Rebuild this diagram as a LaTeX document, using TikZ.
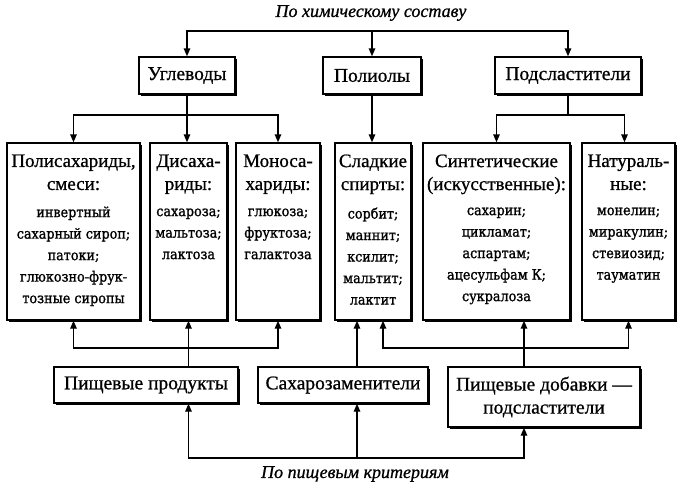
\documentclass[tikz,border=0pt]{standalone}
\usepackage{fontspec}
\setmainfont{Liberation Serif}[FakeBold=0.8]
\newfontfamily\itemf{DejaVu Serif Condensed}[FakeBold=1.2]
\usetikzlibrary{arrows.meta,shadows}

\tikzset{
  box/.style={draw, line width=1.4pt, fill=white, inner sep=0pt,
    drop shadow={shadow xshift=2pt, shadow yshift=-2pt, fill=black, opacity=1}},
  headbox/.style={box, minimum height=37pt, font=\fontsize{19.5}{22}\selectfont},
  midbox/.style={box, minimum height=177pt},
  head/.style={align=center, inner sep=0pt, anchor=north, font=\fontsize{19}{23}\selectfont},
  items/.style={align=center, inner sep=0pt, anchor=north, font=\itemf\fontsize{14.2}{21.5}\selectfont},
  title/.style={inner sep=0pt, font=\itshape\fontsize{18}{20}\selectfont},
  line/.style={line width=1.4pt},
  link/.style={line width=1.4pt, -{Triangle[length=8pt,width=6.5pt]}}
}

\begin{document}
\begin{tikzpicture}[x=1pt, y=-1pt]
	\useasboundingbox (0,0) rectangle (685,488);

	% top row
	\node[title] (chemt) at (371,13) {По химическому составу};
	\node[headbox, minimum width=96pt] (ugl) at (187,75.5) {Углеводы};
	\node[headbox, minimum width=98pt] (pol) at (372,75.5) {Полиолы};
	\node[headbox, minimum width=146pt] (pods) at (568,75.5) {Подсластители};

	% middle row
	\node[midbox, minimum width=133pt] (polys) at (73.5,231.5) {};
	\node[midbox, minimum width=77pt] (disa) at (188.5,231.5) {};
	\node[midbox, minimum width=84pt] (monos) at (278,231.5) {};
	\node[midbox, minimum width=76pt] (sweet) at (373,231.5) {};
	\node[midbox, minimum width=147pt] (synth) at (496.5,231.5) {};
	\node[midbox, minimum width=93pt] (natur) at (628.5,231.5) {};

	\node[head] (polysh) at ([yshift=-12pt]polys.north) {Полисахариды,\\смеси:};
	\node[head] (disah) at ([yshift=-12pt]disa.north) {Дисаха-\\риды:};
	\node[head] (monosh) at ([yshift=-12pt]monos.north) {Моноса-\\хариды:};
	\node[head] (sweeth) at ([yshift=-12pt]sweet.north) {Сладкие\\спирты:};
	\node[head] (synthh) at ([yshift=-12pt]synth.north) {Синтетические\\(искусственные):};
	\node[head] (naturh) at ([yshift=-12pt]natur.north) {Натураль-\\ные:};

	\node[items] (polysi) at ([yshift=-64pt]polys.north) {инвертный\\сахарный сироп;\\патоки;\\глюкозно-фрук-\\тозные сиропы};
	\node[items] (disai) at ([yshift=-66pt]disa.north) {сахароза;\\мальтоза;\\лактоза};
	\node[items] (monosi) at ([yshift=-66pt]monos.north) {глюкоза;\\фруктоза;\\галактоза};
	\node[items] (sweeti) at ([yshift=-65pt]sweet.north) {сорбит;\\маннит;\\ксилит;\\мальтит;\\лактит};
	\node[items] (synthi) at ([yshift=-65pt]synth.north) {сахарин;\\цикламат;\\аспартам;\\ацесульфам К;\\сукралоза};
	\node[items] (naturi) at ([yshift=-65pt]natur.north) {монелин;\\миракулин;\\стевиозид;\\тауматин};

	% bottom row
	\node[box, minimum width=184pt, minimum height=36pt, font=\fontsize{19.5}{22}\selectfont] (prod) at (146,385) {Пищевые продукты};
	\node[box, minimum width=170pt, minimum height=36pt, font=\fontsize{19.5}{22}\selectfont] (zam) at (343,385) {Сахарозаменители};
	\node[box, minimum width=192pt, minimum height=60pt, align=center, font=\fontsize{19.5}{23}\selectfont] (dob) at (544,397) {Пищевые добавки —\\подсластители};
	\node[title] (nutrt) at (355,474) {По пищевым критериям};

	% by composition
	\coordinate (chem) at (372,31);
	\draw[link] (chem) -| (ugl);
	\draw[link] (chem) -- (pol);
	\draw[link] (chem) -| (pods);

	\coordinate (uglfork) at (ugl.south |- 0,115);
	\draw[link] (ugl.south) -- (ugl.south |- disa.north);
	\draw[link] (uglfork) -| (polys.north);
	\draw[link] (uglfork) -| (monos.north);
	\draw[link] (pol) -- (pol.south |- sweet.north);
	\coordinate (podsfork) at (pods.south |- 0,115);
	\draw[line] (pods.south) -- (podsfork);
	\draw[link] (podsfork) -| (synth.north);
	\draw[link] (podsfork) -| ([xshift=-4pt]natur.north);

	% by food criteria
	\coordinate (crit) at ([xshift=14pt]zam.south |- 0,458);
	\draw[link] (crit) -- (crit |- zam.south);
	\draw[link] (crit) -| (disa.south |- prod.south);
	\draw[link] (crit) -| ([xshift=-20pt]dob.south);

	\coordinate (prodfork) at (disa.south |- 0,348);
	\draw[link] (disa.south |- prod.north) -- (disa.south);
	\draw[link] (prodfork) -| (polys.south);
	\draw[link] (prodfork) -| (monos.south);
	\draw[link] ([xshift=14pt]zam.north) -- ([xshift=14pt]zam.north |- sweet.south);
	\coordinate (dobfork) at ([xshift=-20pt]dob.north |- 0,348);
	\draw[link] ([xshift=-20pt]dob.north) -- ([xshift=-20pt]dob.north |- synth.south);
	\draw[link] (dobfork) -| ([xshift=10pt]sweet.south);
	\draw[link] (dobfork) -| (natur.south);
\end{tikzpicture}
\end{document}
